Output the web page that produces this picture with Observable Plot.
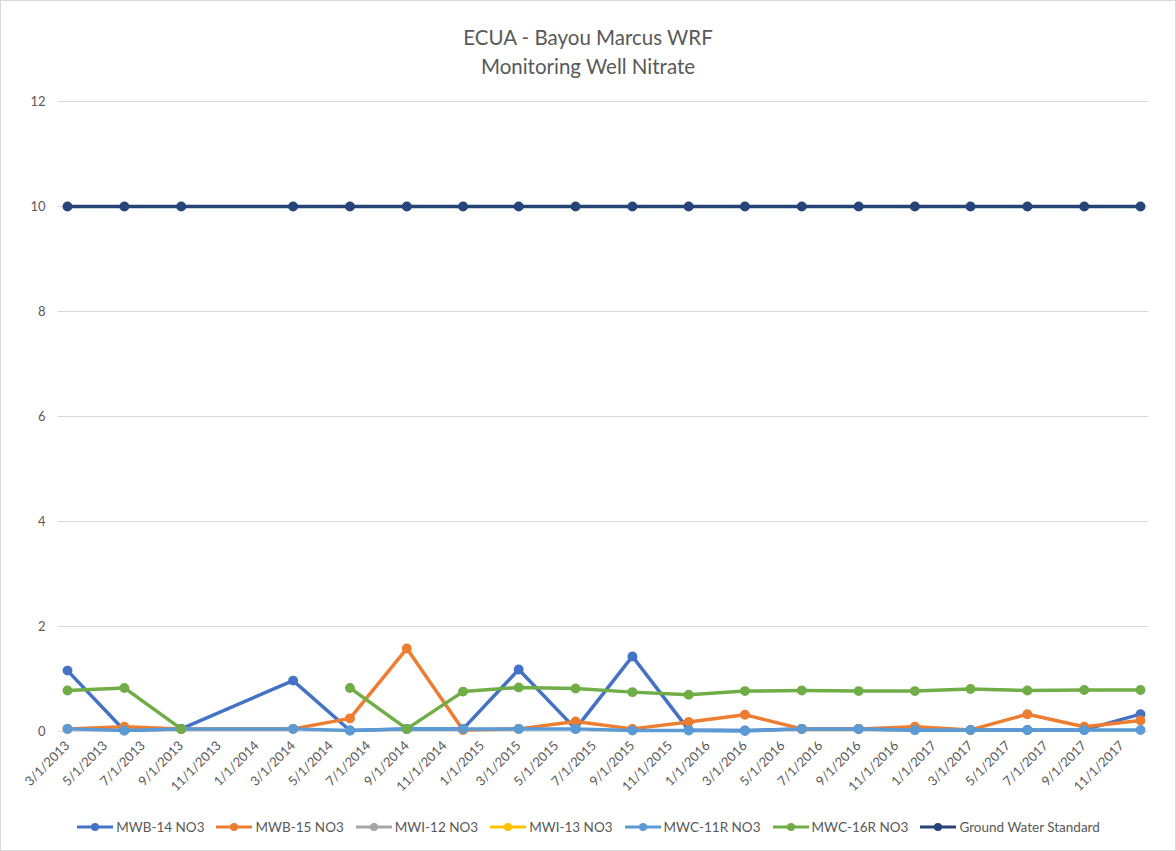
<!DOCTYPE html>
<html>
<head>
<meta charset="utf-8">
<script src="https://cdn.jsdelivr.net/npm/d3@7"></script>
<script src="https://cdn.jsdelivr.net/npm/@observablehq/plot@0.6"></script>
<style>
  body { margin: 0; background: #fff; }
  #wrap { position: relative; width: 1174px; height: 849px; border: 1px solid #d9d9d9; background: #fff; font-family: Lato, "Open Sans", sans-serif; overflow: hidden; }
  #title { position: absolute; top: 22px; left: 0; width: 100%; text-align: center; font-size: 20.5px; line-height: 29px; color: #595959; }
  #chart { position: absolute; top: 85px; left: 0; }
  #legend { position: absolute; top: 818px; left: 0; width: 100%; display: flex; justify-content: center; gap: 11px; font-size: 13.5px; color: #595959; }
  .item { display: flex; align-items: center; gap: 2px; }
</style>
</head>
<body>
<div id="wrap">
  <div id="title">ECUA - Bayou Marcus WRF<br>Monitoring Well Nitrate</div>
  <div id="chart"></div>
  <div id="legend"></div>
</div>
<script>
// Sample dates (quarterly, 12/2013 absent)
const dates = ["3/1/2013","6/1/2013","9/1/2013","3/1/2014","6/1/2014","9/1/2014","12/1/2014","3/1/2015","6/1/2015","9/1/2015","12/1/2015","3/1/2016","6/1/2016","9/1/2016","12/1/2016","3/1/2017","6/1/2017","9/1/2017","12/1/2017"];

const seriesNames = ["MWB-14 NO3","MWB-15 NO3","MWI-12 NO3","MWI-13 NO3","MWC-11R NO3","MWC-16R NO3","Ground Water Standard"];
const seriesColors = ["#4472C4","#ED7D31","#A5A5A5","#FFC000","#5B9BD5","#70AD47","#264478"];

const mwb14  = [1.16,0.02,0.05,0.97,0.02,0.05,0.05,1.18,0.05,1.43,0.03,0.02,0.05,0.05,0.03,0.03,0.03,0.03,0.33];
const mwb15  = [0.05,0.09,0.05,0.05,0.25,1.58,0.03,0.05,0.19,0.05,0.18,0.32,0.05,0.05,0.09,0.03,0.33,0.09,0.21];
const mwi12  = [null,null,null,null,null,null,null,null,null,null,null,null,null,null,null,null,null,null,null];
const mwi13  = [null,null,null,null,null,null,null,null,null,null,null,null,null,null,null,null,null,null,null];
const mwc11r = [0.05,0.02,0.05,0.05,0.02,0.05,0.05,0.05,0.05,0.02,0.02,0.01,0.05,0.05,0.03,0.03,0.03,0.03,0.03];
const mwc16r = [0.78,0.83,0.05,null,0.83,0.05,0.76,0.84,0.82,0.75,0.70,0.77,0.78,0.77,0.77,0.81,0.78,0.79,0.79];
const gws    = [10,10,10,10,10,10,10,10,10,10,10,10,10,10,10,10,10,10,10];

const xTickLabels = ["3/1/2013","5/1/2013","7/1/2013","9/1/2013","11/1/2013","1/1/2014","3/1/2014","5/1/2014","7/1/2014","9/1/2014","11/1/2014","1/1/2015","3/1/2015","5/1/2015","7/1/2015","9/1/2015","11/1/2015","1/1/2016","3/1/2016","5/1/2016","7/1/2016","9/1/2016","11/1/2016","1/1/2017","3/1/2017","5/1/2017","7/1/2017","9/1/2017","11/1/2017"];
const yTicks = [0,2,4,6,8,10,12];

const parse = d3.utcParse("%m/%d/%Y");
const fmt = d3.utcFormat("%-m/%-d/%Y");
const allValues = [mwb14, mwb15, mwi12, mwi13, mwc11r, mwc16r, gws];

const rows = [];
seriesNames.forEach((name, i) => {
  dates.forEach((d, j) => {
    rows.push({series: name, date: parse(d), value: allValues[i][j]});
  });
});

const chart = Plot.plot({
  width: 1174,
  height: 715,
  marginLeft: 66,
  marginRight: 35,
  marginTop: 15,
  marginBottom: 70,
  style: {fontFamily: "Lato, 'Open Sans', sans-serif", fontSize: "13px", color: "#595959", background: "transparent"},
  x: {type: "utc", domain: [parse(dates[0]), parse(dates[dates.length - 1])]},
  y: {domain: [0, 12]},
  color: {domain: seriesNames, range: seriesColors},
  marks: [
    Plot.gridY(yTicks, {stroke: "#d9d9d9", strokeOpacity: 1, strokeWidth: 1, insetLeft: -9, insetRight: -8}),
    Plot.axisY({ticks: yTicks, tickSize: 0, tickPadding: 22, label: null, fill: "#595959", fontSize: 13}),
    Plot.axisX({ticks: xTickLabels.map(parse), tickFormat: fmt, tickSize: 0, tickPadding: 12, tickRotate: -45, label: null, fill: "#595959", fontSize: 13}),
    Plot.line(rows, {x: "date", y: "value", z: "series", stroke: "series", strokeWidth: 3.5, strokeLinejoin: "round", strokeLinecap: "round"}),
    Plot.dot(rows.filter(r => r.value != null), {x: "date", y: "value", fill: "series", stroke: "series", r: 4.2})
  ]
});
document.getElementById("chart").appendChild(chart);

const legend = document.getElementById("legend");
seriesNames.forEach((name, i) => {
  const item = document.createElement("div");
  item.className = "item";
  item.innerHTML = `<svg width="38" height="10"><line x1="1" y1="5" x2="37" y2="5" stroke="${seriesColors[i]}" stroke-width="3"/><circle cx="19" cy="5" r="4" fill="${seriesColors[i]}"/></svg><span>${name}</span>`;
  legend.appendChild(item);
});
</script>
</body>
</html>
